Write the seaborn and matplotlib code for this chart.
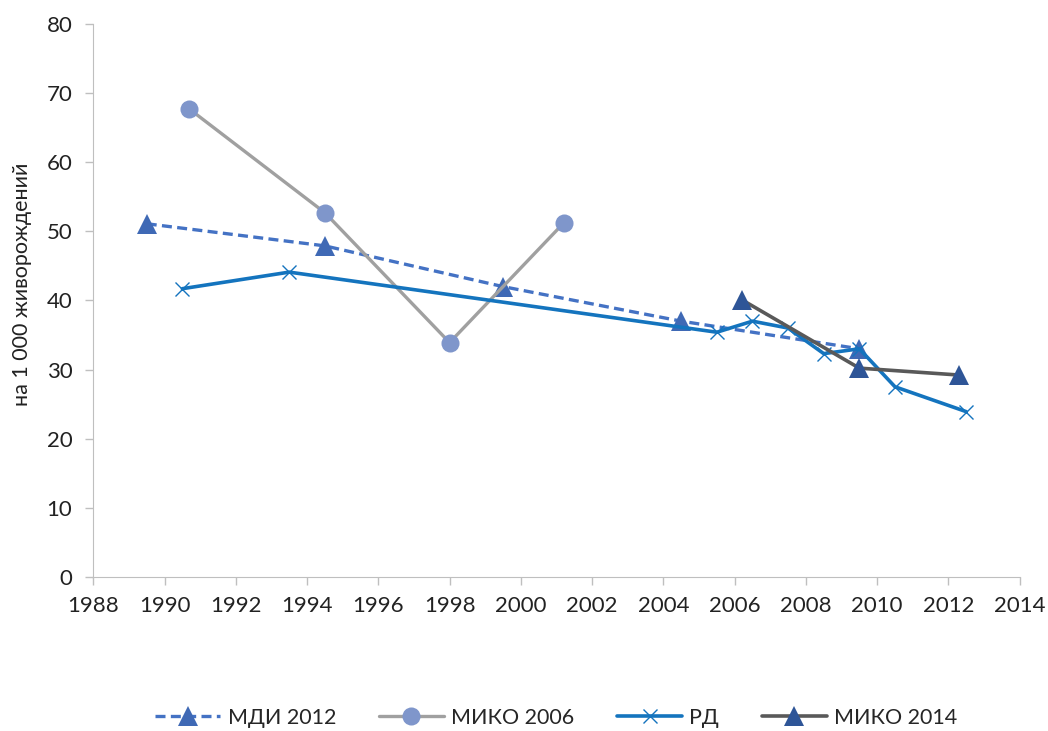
import pandas as pd
import seaborn as sns
import matplotlib.pyplot as plt
from matplotlib.ticker import MultipleLocator

sns.set_style('white')
plt.rcParams['font.family'] = ['Lato', 'DejaVu Sans']

# data
mdi_years = [1989.5, 1994.5, 1999.5, 2004.5, 2009.5]
mdi_vals = [51.1, 47.9, 42.0, 37.0, 33.0]

miko06_years = [1990.7, 1994.5, 1998.0, 2001.2]
miko06_vals = [67.7, 52.7, 33.9, 51.2]

rd_years = [1990.5, 1993.5, 2005.5, 2006.5, 2007.5, 2008.5, 2009.5, 2010.5, 2012.5]
rd_vals = [41.7, 44.1, 35.4, 37.0, 36.0, 32.3, 33.0, 27.5, 23.9]

miko14_years = [2006.2, 2009.5, 2012.3]
miko14_vals = [40.1, 30.2, 29.2]

fig = plt.figure(figsize=(10.48, 7.31), dpi=100)
ax = fig.add_axes([0.089, 0.211, 0.884, 0.756])

sns.lineplot(x=mdi_years, y=mdi_vals, ax=ax, color='#4472C4', linewidth=2.4,
             linestyle=(0, (3, 1.6)), marker='^', markersize=14, markeredgewidth=0,
             markerfacecolor='#3F69B5', label='МДИ 2012')
sns.lineplot(x=miko06_years, y=miko06_vals, ax=ax, color='#A0A0A0', linewidth=2.4,
             marker='o', markersize=13, markeredgewidth=0,
             markerfacecolor='#7F96CB', label='МИКО 2006')
sns.lineplot(x=rd_years, y=rd_vals, ax=ax, color='#1474BE', linewidth=2.6,
             marker='x', markersize=10, markeredgewidth=1.0,
             markeredgecolor='#1474BE', label='РД')
sns.lineplot(x=miko14_years, y=miko14_vals, ax=ax, color='#595959', linewidth=2.6,
             marker='^', markersize=15, markeredgewidth=0,
             markerfacecolor='#2E5597', label='МИКО 2014')

ax.set_xlim(1988, 2014)
ax.set_ylim(0, 80)
ax.xaxis.set_major_locator(MultipleLocator(2))
ax.yaxis.set_major_locator(MultipleLocator(10))
ax.tick_params(axis='both', labelsize=16, colors='#BFBFBF', labelcolor='#222222',
               length=6, width=1, direction='out', bottom=True, left=True)
ax.tick_params(axis='x', pad=8)
ax.tick_params(axis='y', pad=9)
for s in ['top', 'right']:
    ax.spines[s].set_visible(False)
for s in ['left', 'bottom']:
    ax.spines[s].set_color('#BFBFBF')
ax.set_ylabel('на 1 000 живорождений', fontsize=15.5, color='#222222')
ax.yaxis.set_label_coords(-0.066, 0.53)
ax.set_xlabel('')

ax.legend(loc='center', bbox_to_anchor=(0.5, -0.255), ncol=4, frameon=False,
          fontsize=15.5, handlelength=3.0, columnspacing=2.0, handletextpad=0.35)

plt.savefig('out.png', dpi=100)
